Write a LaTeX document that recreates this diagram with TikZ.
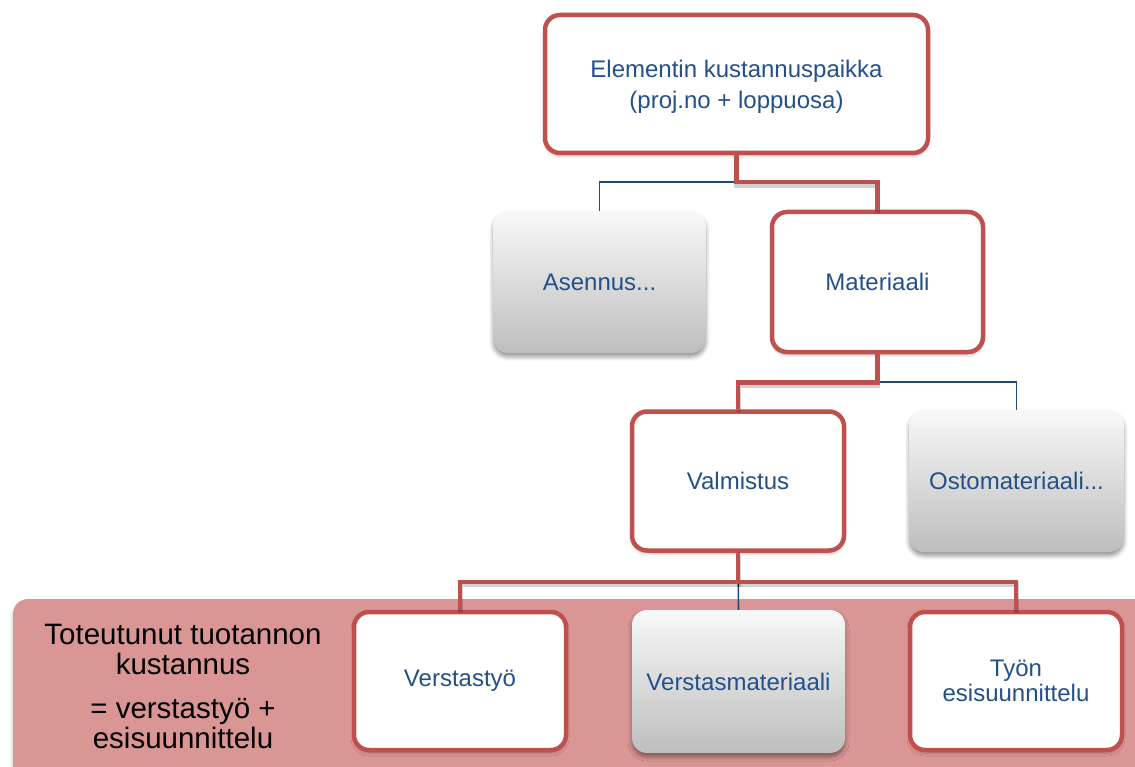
\documentclass[tikz,border=0pt]{standalone}
\usepackage{fontspec}
\setmainfont{Liberation Sans}
\usetikzlibrary{shadows.blur}
\definecolor{boxred}{HTML}{C0504D}
\definecolor{linknavy}{HTML}{1F497D}
\definecolor{labelblue}{HTML}{24508A}
\definecolor{bandpink}{HTML}{D99694}
\definecolor{greytop}{HTML}{F8F8F8}
\definecolor{greymid}{HTML}{E4E4E4}
\definecolor{greybot}{HTML}{BEBEBE}
\tikzset{
  basebox/.style={rectangle, rounded corners=15pt, align=center,
    text=labelblue, font=\fontsize{24}{30}\selectfont},
  redbox/.style={basebox, draw=boxred, line width=4.5pt, fill=white,
    blur shadow={shadow xshift=0pt, shadow yshift=-3pt, shadow blur radius=3pt, shadow opacity=25}},
  greybox/.style={basebox, top color=greytop, middle color=greymid, bottom color=greybot,
    blur shadow={shadow xshift=0pt, shadow yshift=-4pt, shadow blur radius=4pt, shadow opacity=40}},
  boxlabel/.style={align=center, text=labelblue, inner sep=0pt},
  redlink/.style={draw=boxred, line width=4.5pt,
    preaction={draw=black, opacity=0.18, line width=5pt, transform canvas={yshift=-3pt}}},
  navylink/.style={draw=linknavy, line width=1.6pt},
}
\begin{document}
\begin{tikzpicture}[x=1pt, y=-1pt]
\useasboundingbox (0,0) rectangle (1135,767);

% band behind the bottom row
\fill[bandpink, rounded corners=15pt,
  blur shadow={shadow xshift=0pt, shadow yshift=-3pt, shadow blur radius=3pt, shadow opacity=30}]
  (13,599) rectangle (1160,790);
\node[font=\fontsize{29.5}{30}\selectfont, align=center, inner sep=0pt] (note) at (183,686)
  {Toteutunut tuotannon\\kustannus\\[14pt]= verstastyö +\\esisuunnittelu};

% boxes
\node[redbox, minimum width=383pt, minimum height=138pt] (top) at (736.5,84) {};
\node[boxlabel, font=\fontsize{24}{31}\selectfont] (toptext) at ([yshift=-3pt]top.center)
  {Elementin kustannuspaikka\\(proj.no + loppuosa)};
\node[greybox, minimum width=213pt, minimum height=142pt] (asen) at (599.5,282) {Asennus...};
\node[redbox, minimum width=211pt, minimum height=140pt] (mat) at (877.5,282) {Materiaali};
\node[redbox, minimum width=212pt, minimum height=139pt] (val) at (738,481) {Valmistus};
\node[greybox, minimum width=215pt, minimum height=142pt] (osto) at (1016.5,481) {Ostomateriaali...};
\node[redbox, minimum width=212pt, minimum height=138pt] (vtyo) at (460,681) {Verstastyö};
\node[greybox, minimum width=213pt, minimum height=143pt] (vmat) at (738.5,681.5) {Verstasmateriaali};
\node[redbox, minimum width=212pt, minimum height=138pt, font=\fontsize{24}{25}\selectfont] (tyon) at (1016,681)
  {Työn\\esisuunnittelu};

% connectors
\draw[navylink] ([yshift=-27pt]top.south) -| (asen.north);
\draw[redlink] (top.south) -- ++(0,27) -| (mat.north);

\draw[navylink] ([yshift=-28pt]mat.south) -| (osto.north);
\draw[redlink] (mat.south) -- ++(0,28) -| (val.north);

\draw[navylink] (val.south) -- (vmat.north);
\draw[redlink] (val.south) -- ++(0,29) -| (vtyo.north);
\draw[redlink] ([yshift=-29pt]val.south) -| (tyon.north);
\end{tikzpicture}
\end{document}
